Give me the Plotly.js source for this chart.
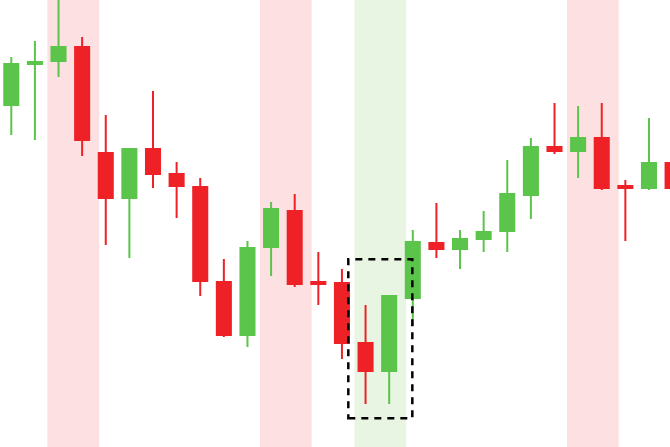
<!DOCTYPE html>
<html>
<head>
<meta charset="utf-8">
<script src="https://cdn.plot.ly/plotly-3.0.1.min.js"></script>
<style>html,body{margin:0;padding:0;background:#fff;}#chart{width:670px;height:447px;}</style>
</head>
<body>
<div id="chart"></div>
<script>
var idx   = [0,1,2,3,4,5,6,7,8,9,10,11,12,13,14,15,16,17,18,19,20,21,22,23,24,25,26,27,28];
var open  = [345,386,389,403,297,252,301,276,263,168,115,203,239,168,167,107, 79,152,207,201,211,219,255,303,299,312,264,262,287];
var high  = [393,409,460,413,335,301,359,288,272,191,209,248,256,198,181,145,155,220,247,220,239,290,312,347,344,347,270,332,295];
var low   = [315,310,373,294,205,192,262,232,154,113,103,174,163,145, 91, 46, 46,124,192,181,198,198,231,296,272,260,209,260,258];
var close = [386,388,403,310,252,301,276,264,169,115,202,241,166,166,107, 79,154,208,201,211,218,256,303,299,312,262,262,287,262];

var redBands   = [2, 11, 24];
var greenBands = [15];
var boxX = [14.27, 16.98];
var boxY = [31.7, 190.7];

var RED = '#EE2226', GREEN = '#5BC44A';

var shapes = [];
redBands.forEach(function(s){
  shapes.push({type:'rect', xref:'x', yref:'paper', x0:s-0.47, x1:s+1.72, y0:0, y1:1,
    fillcolor:'#FDE0E1', line:{width:0}, layer:'below'});
});
greenBands.forEach(function(s){
  shapes.push({type:'rect', xref:'x', yref:'paper', x0:s-0.47, x1:s+1.72, y0:0, y1:1,
    fillcolor:'#E8F5E3', line:{width:0}, layer:'below'});
});
shapes.push({type:'rect', xref:'x', yref:'y', x0:boxX[0], x1:boxX[1], y0:boxY[0], y1:boxY[1],
  fillcolor:'rgba(0,0,0,0)', line:{color:'#000', width:2.5, dash:'7px,6px'}, layer:'above'});

var trace = {
  type:'candlestick', x:idx, open:open, high:high, low:low, close:close,
  increasing:{line:{color:GREEN, width:2}, fillcolor:GREEN},
  decreasing:{line:{color:RED, width:2}, fillcolor:RED},
  whiskerwidth:0, hoverinfo:'none'
};

var layout = {
  width:670, height:447,
  margin:{l:0, r:0, t:0, b:0},
  paper_bgcolor:'#fff', plot_bgcolor:'rgba(0,0,0,0)',
  showlegend:false,
  boxgap:0.15,
  xaxis:{range:[-0.478, 27.89], visible:false, rangeslider:{visible:false}, fixedrange:true},
  yaxis:{range:[3, 450], visible:false, fixedrange:true},
  shapes:shapes
};
Plotly.newPlot('chart', [trace], layout, {staticPlot:true, displayModeBar:false});
</script>
</body>
</html>
